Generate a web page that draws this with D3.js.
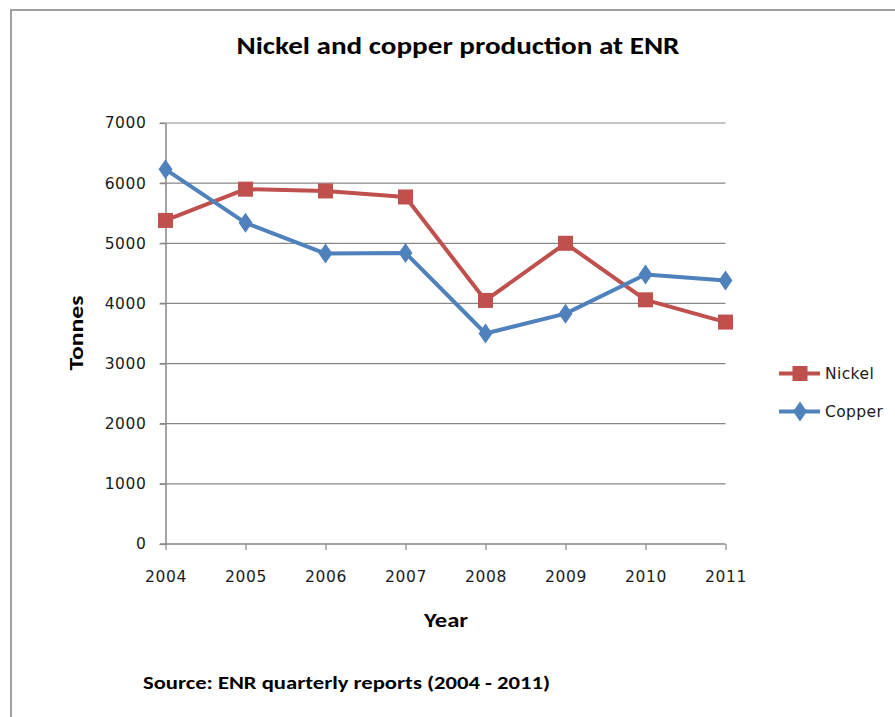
<!DOCTYPE html>
<html>
<head>
<meta charset="utf-8">
<script src="https://cdn.jsdelivr.net/npm/d3@7"></script>
<style>
  html, body { margin: 0; padding: 0; background: #fff; }
  svg { display: block; }
</style>
</head>
<body>
<svg id="chart" width="895" height="717"></svg>
<script>
// Production data, tonnes per year
const years = ["2004", "2005", "2006", "2007", "2008", "2009", "2010", "2011"];
const nickel = [5380, 5900, 5870, 5770, 4050, 5000, 4060, 3690];
const copper = [6230, 5340, 4830, 4840, 3500, 3830, 4480, 4380];
const yTicks = [0, 1000, 2000, 3000, 4000, 5000, 6000, 7000];
const seriesNames = ["Nickel", "Copper"];

const nickelColor = "#C0504D";
const copperColor = "#4F81BD";
const axisColor = "#878787";
const headFont = "Carlito, Lato, 'Open Sans', sans-serif";
const tickFont = "'DejaVu Sans', Verdana, sans-serif";

const svg = d3.select("#chart");

// Chart frame
svg.append("rect")
  .attr("x", 11).attr("y", 10)
  .attr("width", 900).attr("height", 720)
  .attr("fill", "#fff")
  .attr("stroke", "#a0a0a0")
  .attr("stroke-width", 2);

const x = d3.scalePoint().domain(years).range([165.5, 725.5]);
const y = d3.scaleLinear().domain([0, 7000]).range([544, 123]);

// Horizontal gridlines
svg.append("g")
  .selectAll("line")
  .data(yTicks.filter(t => t > 0))
  .join("line")
  .attr("x1", 160).attr("x2", 725.5)
  .attr("y1", d => y(d)).attr("y2", d => y(d))
  .attr("stroke", axisColor).attr("stroke-width", 1.2);

// Y axis
const yAxis = svg.append("g")
  .attr("transform", `translate(${x(years[0])},0)`)
  .call(d3.axisLeft(y).tickValues(yTicks).tickFormat(d3.format("d"))
    .tickSize(6).tickPadding(13).tickSizeOuter(0));
yAxis.select(".domain").attr("stroke", axisColor).attr("stroke-width", 1.5);
yAxis.selectAll(".tick line").attr("stroke", axisColor).attr("stroke-width", 1.2);
yAxis.selectAll(".tick text")
  .attr("font-family", tickFont).attr("font-size", 15.5)
  .attr("fill", "#1a1a1a").attr("letter-spacing", "0.6px");

// X axis
const xAxis = svg.append("g")
  .attr("transform", `translate(0,${y(0)})`)
  .call(d3.axisBottom(x).tickSize(6).tickPadding(21).tickSizeOuter(0));
xAxis.select(".domain").attr("stroke", axisColor).attr("stroke-width", 1.5)
  .attr("d", `M160,0H${x(years[years.length - 1])}`);
xAxis.selectAll(".tick line").attr("stroke", axisColor).attr("stroke-width", 1.2);
xAxis.selectAll(".tick text")
  .attr("font-family", tickFont).attr("font-size", 15.5)
  .attr("fill", "#1a1a1a").attr("letter-spacing", "0.6px");

// Series lines and markers
const line = d3.line().x((d, i) => x(years[i])).y(d => y(d));

svg.append("path").datum(nickel)
  .attr("d", line).attr("fill", "none")
  .attr("stroke", nickelColor).attr("stroke-width", 4)
  .attr("stroke-linejoin", "round");
svg.append("path").datum(copper)
  .attr("d", line).attr("fill", "none")
  .attr("stroke", copperColor).attr("stroke-width", 4)
  .attr("stroke-linejoin", "round");

const sq = 15;
svg.append("g").selectAll("rect")
  .data(nickel)
  .join("rect")
  .attr("x", (d, i) => x(years[i]) - sq / 2)
  .attr("y", d => y(d) - sq / 2)
  .attr("width", sq).attr("height", sq)
  .attr("fill", nickelColor);

const diamond = d3.symbol().type(d3.symbolDiamond).size(115);
svg.append("g").selectAll("path")
  .data(copper)
  .join("path")
  .attr("transform", (d, i) => `translate(${x(years[i])},${y(d)}) scale(1.2,1)`)
  .attr("d", diamond)
  .attr("fill", copperColor);

// Legend
const legend = svg.append("g");
const legendRows = [
  { name: seriesNames[0], color: nickelColor, y: 373.5, marker: "square" },
  { name: seriesNames[1], color: copperColor, y: 411.5, marker: "diamond" }
];
legendRows.forEach(r => {
  legend.append("line")
    .attr("x1", 779).attr("x2", 820)
    .attr("y1", r.y).attr("y2", r.y)
    .attr("stroke", r.color).attr("stroke-width", 4);
  if (r.marker === "square") {
    legend.append("rect")
      .attr("x", 800 - sq / 2).attr("y", r.y - sq / 2)
      .attr("width", sq).attr("height", sq).attr("fill", r.color);
  } else {
    legend.append("path")
      .attr("transform", `translate(800,${r.y}) scale(1.2,1)`)
      .attr("d", diamond).attr("fill", r.color);
  }
  legend.append("text")
    .attr("x", 825).attr("y", r.y)
    .attr("dy", "0.36em")
    .attr("font-family", tickFont).attr("font-size", 15.5)
    .attr("letter-spacing", "0.4px")
    .attr("fill", "#1a1a1a")
    .text(r.name);
});

// Title and axis titles
svg.append("text")
  .attr("x", 458).attr("y", 53.5)
  .attr("text-anchor", "middle")
  .attr("font-family", headFont).attr("font-weight", "bold")
  .attr("font-size", 25)
  .attr("textLength", 443).attr("lengthAdjust", "spacingAndGlyphs")
  .attr("fill", "#000")
  .text("Nickel and copper production at ENR");

svg.append("text")
  .attr("transform", "translate(82.5,333) rotate(-90)")
  .attr("text-anchor", "middle")
  .attr("font-family", headFont).attr("font-weight", "bold")
  .attr("font-size", 20)
  .attr("textLength", 75).attr("lengthAdjust", "spacingAndGlyphs")
  .attr("fill", "#000")
  .text("Tonnes");

svg.append("text")
  .attr("x", 446).attr("y", 627)
  .attr("text-anchor", "middle")
  .attr("font-family", headFont).attr("font-weight", "bold")
  .attr("font-size", 20)
  .attr("textLength", 44).attr("lengthAdjust", "spacingAndGlyphs")
  .attr("fill", "#000")
  .text("Year");

svg.append("text")
  .attr("x", 143).attr("y", 688.5)
  .attr("font-family", headFont).attr("font-weight", "bold")
  .attr("font-size", 18.5)
  .attr("textLength", 407).attr("lengthAdjust", "spacingAndGlyphs")
  .attr("fill", "#000")
  .text("Source: ENR quarterly reports (2004 - 2011)");
</script>
</body>
</html>
